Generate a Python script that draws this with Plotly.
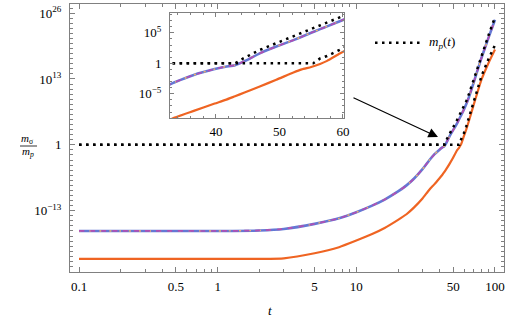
import plotly.graph_objects as go

# ---------------- data ----------------
t = [0.1, 0.2, 0.5, 1, 2, 3, 5, 7.5, 10, 13, 16, 20, 23, 26, 30, 33.5, 36.5,
     39.8, 41.5, 43, 44.5, 46.9, 49.5, 52.2, 53.5, 55, 56.4, 57.5, 59.5, 62,
     65, 70, 75, 80, 90, 100]
# log10 of m_sigma/m_p
blue_exp = [-17.0, -17.0, -17.0, -17.0, -16.9, -16.6, -15.6, -14.5, -13.3,
            -12.0, -10.8, -9.2, -8.0, -6.7, -4.8, -3.1, -1.9, -0.95, -0.55,
            -0.3, 0.35, 1.64, 2.75, 3.8, 4.35, 5.0, 5.6, 6.05, 6.9, 8.0, 9.5,
            12.2, 14.8, 17.2, 21.2, 24.7]
orange_exp = [-22.5, -22.5, -22.5, -22.5, -22.5, -22.4, -21.4, -20.2, -18.9,
              -17.6, -16.4, -14.8, -13.7, -12.4, -10.6, -8.9, -7.8, -6.6, -6.0,
              -5.4, -4.8, -3.8, -2.7, -1.5, -1.0, -0.6, -0.1, 0.4, 1.6, 3.0,
              4.8, 7.8, 10.5, 12.9, 16.2, 18.8]

mpA_t = [0.1, 43.0, 44.3, 46.9, 49.5, 52.2, 55, 57.5, 59.5, 62, 65, 70, 75,
         80, 90, 100]
mpA_exp = [0, 0, 0.8, 2.2, 3.3, 4.4, 5.6, 6.6, 7.5, 8.6, 10.1, 12.8, 15.4,
           17.8, 21.7, 25.2]
mpB_t = [0.1, 55.3, 56.4, 57.5, 59.5, 62, 65, 70, 75, 80, 90, 100]
mpB_exp = [0, 0, 0.8, 1.2, 2.2, 3.6, 5.4, 8.4, 11.1, 13.6, 17.0, 19.7]

x_major = [0.1, 0.5, 1, 5, 10, 50, 100]
x_major_text = ["0.1", "0.5", "1", "5", "10", "50", "100"]
y_major = [1e-13, 1.0, 1e13, 1e26]
y_major_text = ["10<sup>−13</sup>", "1", "10<sup>13</sup>", "10<sup>26</sup>"]
inset_x_ticks = [40, 50, 60]
inset_y_ticks = [1e-5, 1.0, 1e5]
inset_y_text = ["10<sup>−5</sup>", "1", "10<sup>5</sup>"]

# ---------------- derived ----------------
blue = [10.0 ** e for e in blue_exp]
orange = [10.0 ** e for e in orange_exp]
mpA = [10.0 ** e for e in mpA_exp]
mpB = [10.0 ** e for e in mpB_exp]

x_minor = [k * 10.0 ** p for p in (-1, 0, 1) for k in range(2, 10) if k != 5]
y_minor = [10.0 ** p for p in range(-25, 28) if p % 13 != 0]
ix_minor = [v for v in range(34, 61, 2) if v not in inset_x_ticks]
iy_minor = [10.0 ** p for p in range(-8, 9) if p % 5 != 0]

BLUE = "#6478d4"
PURPLE = "#b04fb4"
ORANGE = "#ef6422"
LORANGE = "#f2b066"
FRAME = "#808080"
DOT = "2.5px,4.5px"
FONT = "Liberation Serif"

fig = go.Figure()


def add_set(xa, ya):
    fig.add_trace(go.Scatter(x=t, y=orange, mode="lines", xaxis=xa, yaxis=ya,
                             line=dict(color=ORANGE, width=2.2, shape="spline", smoothing=0.5)))
    fig.add_trace(go.Scatter(x=t, y=blue, mode="lines", xaxis=xa, yaxis=ya,
                             line=dict(color=BLUE, width=2.6, shape="spline", smoothing=0.5)))
    fig.add_trace(go.Scatter(x=t, y=blue, mode="lines", xaxis=xa, yaxis=ya,
                             line=dict(color=LORANGE, width=1.4, dash="2px,8px",
                                       shape="spline", smoothing=0.5)))
    fig.add_trace(go.Scatter(x=t, y=blue, mode="lines", xaxis=xa, yaxis=ya,
                             line=dict(color=PURPLE, width=1.7, dash="5px,6px",
                                       shape="spline", smoothing=0.5)))
    fig.add_trace(go.Scatter(x=mpA_t, y=mpA, mode="lines", xaxis=xa, yaxis=ya,
                             line=dict(color="black", width=2.5, dash=DOT)))
    fig.add_trace(go.Scatter(x=mpB_t, y=mpB, mode="lines", xaxis=xa, yaxis=ya,
                             line=dict(color="black", width=2.5, dash=DOT)))


add_set("x", "y")
add_set("x2", "y2")

common = dict(showline=True, linecolor=FRAME, linewidth=1, mirror="ticks",
              ticks="inside", tickcolor=FRAME, tickwidth=1, showgrid=False,
              zeroline=False, automargin=False,
              tickfont=dict(family=FONT, size=13, color="black"))

fig.update_layout(
    width=510, height=319,
    margin=dict(l=70, r=6, t=4, b=47, autoexpand=False),
    paper_bgcolor="white", plot_bgcolor="white",
    showlegend=False,
    font=dict(family=FONT, size=13, color="black"),
    xaxis=dict(type="log", range=[-1.065, 2.065], domain=[0, 1], anchor="y",
               tickmode="array", tickvals=x_major, ticktext=x_major_text, ticklen=5,
               ticklabelstandoff=2,
               minor=dict(tickmode="array", tickvals=x_minor, ticks="inside",
                          ticklen=3, tickcolor=FRAME), **common),
    yaxis=dict(type="log", range=[-25.1, 27.8], domain=[0, 1], anchor="x",
               tickmode="array", tickvals=y_major, ticktext=y_major_text, ticklen=5,
               ticklabelstandoff=5,
               minor=dict(tickmode="array", tickvals=y_minor, ticks="inside",
                          ticklen=3, tickcolor=FRAME), **common),
    xaxis2=dict(range=[32.76, 60.16], domain=[0.2304, 0.6313], anchor="y2",
                tickmode="array", tickvals=inset_x_ticks, ticklen=4,
                ticklabelstandoff=1,
                minor=dict(tickmode="array", tickvals=ix_minor, ticks="inside",
                           ticklen=2, tickcolor=FRAME), **common),
    yaxis2=dict(type="log", range=[-8.97, 8.25], domain=[0.5746, 0.9664], anchor="x2",
                tickmode="array", tickvals=inset_y_ticks, ticktext=inset_y_text,
                ticklen=4, ticklabelstandoff=5,
                minor=dict(tickmode="array", tickvals=iy_minor, ticks="inside",
                           ticklen=2, tickcolor=FRAME), **common),
)

# y-axis label as a fraction
fig.add_annotation(text="<i>m</i><sub>σ</sub>", xref="paper", yref="paper",
                   x=-0.0968, y=0.4963, showarrow=False, xanchor="center", yanchor="middle",
                   font=dict(family=FONT, size=11))
fig.add_annotation(text="<i>m</i><sub><i>p</i></sub>", xref="paper", yref="paper",
                   x=-0.0968, y=0.446, showarrow=False, xanchor="center", yanchor="middle",
                   font=dict(family=FONT, size=11))
fig.add_shape(type="line", xref="paper", yref="paper", x0=-0.1152, x1=-0.0760,
              y0=0.4701, y1=0.4701, line=dict(color="black", width=0.8))

# x-axis label
fig.add_annotation(text="<i>t</i>", xref="paper", yref="paper", x=0.4608, y=-0.142,
                   showarrow=False, xanchor="center", yanchor="middle",
                   font=dict(family=FONT, size=13))

# legend
fig.add_shape(type="line", xref="paper", yref="paper", x0=0.7028, x1=0.8134,
              y0=0.8556, y1=0.8556, line=dict(color="black", width=2.5, dash=DOT))
fig.add_annotation(text="<i>m</i><sub><i>p</i></sub>(<i>t</i>)", xref="paper", yref="paper",
                   x=0.8226, y=0.8556, showarrow=False, xanchor="left", yanchor="middle",
                   font=dict(family=FONT, size=13))

# arrow pointing at the kink
fig.add_annotation(text="", xref="paper", yref="paper", x=0.8479, y=0.5037,
                   ax=-86, ay=-40, showarrow=True, arrowhead=2, arrowsize=1.6,
                   arrowwidth=1.2, arrowcolor="black")

fig.write_html("out.html", config={"displayModeBar": False},
               post_script="document.body.style.margin='0';document.body.style.padding='0';")
